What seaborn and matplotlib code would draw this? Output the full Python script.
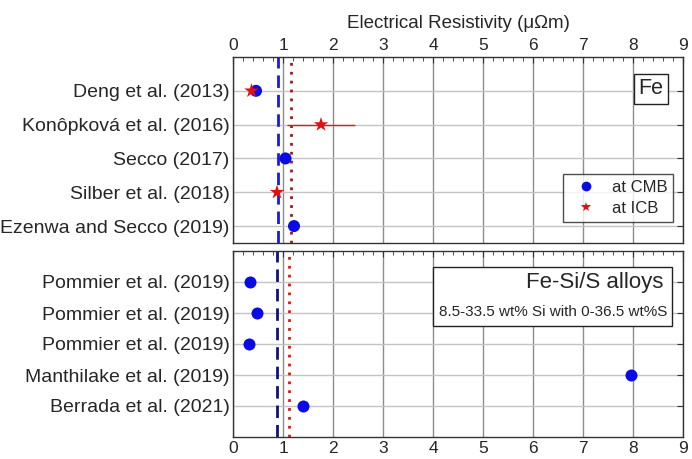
import numpy as np
import pandas as pd
import matplotlib.pyplot as plt
import seaborn as sns
from matplotlib.ticker import MultipleLocator

sns.set_style("white")
plt.rcParams['font.family'] = ['Liberation Sans', 'DejaVu Sans']

# ---------------- data ----------------
fe_studies = ["Deng et al. (2013)", "Konôpková et al. (2016)", "Secco (2017)",
              "Silber et al. (2018)", "Ezenwa and Secco (2019)"]
fe_cmb = [0.46, np.nan, 1.05, np.nan, 1.22]
fe_icb = [0.37, 1.76, np.nan, 0.88, np.nan]
fe_icb_lo = [np.nan, 1.08, np.nan, np.nan, np.nan]
fe_icb_hi = [np.nan, 2.44, np.nan, np.nan, np.nan]

alloy_studies = ["Pommier et al. (2019)", "Pommier et al. (2019)", "Pommier et al. (2019)",
                 "Manthilake et al. (2019)", "Berrada et al. (2021)"]
alloy_cmb = [0.34, 0.47, 0.32, 7.96, 1.40]

fe_lines = [0.90, 1.15]
alloy_lines = [0.88, 1.12]

# ---------------- figure ----------------
fig = plt.figure(figsize=(6.92, 4.59), dpi=100)
ax1 = fig.add_axes([233/692, 1 - 243/459, 450/692, 186/459])
ax2 = fig.add_axes([233/692, 1 - 437/459, 450/692, 186/459])


def style_axis(ax, labels, top):
    ax.set_xlim(0, 9)
    ax.xaxis.set_major_locator(MultipleLocator(1))
    ax.xaxis.set_minor_locator(MultipleLocator(0.2))
    ax.set_yticks(np.arange(1, len(labels) + 1))
    ax.set_yticklabels(labels)
    ax.grid(True, axis='x', which='major', color='#8c8c8c', linewidth=1.0)
    ax.grid(True, axis='y', which='major', color='#c4c4c4', linewidth=1.0)
    ax.set_axisbelow(True)
    ax.tick_params(axis='both', which='both', direction='in', top=True, right=True,
                   color='#333333')
    ax.tick_params(axis='x', which='major', length=4, labelsize=12.5)
    ax.tick_params(axis='x', which='minor', length=3)
    ax.tick_params(axis='y', length=4, labelsize=14, pad=2.5)
    ax.tick_params(axis='x', labeltop=top, labelbottom=not top, pad=3)
    for s in ax.spines.values():
        s.set_color('#333333')
        s.set_linewidth(1.0)
    ax.set_xlabel("")
    ax.set_ylabel("")


# ---- top panel (Fe) ----
ypos = np.arange(1, len(fe_studies) + 1)
df_fe = pd.DataFrame({
    "y": np.concatenate([ypos, ypos]),
    "rho": fe_cmb + fe_icb,
    "where": ["at CMB"] * 5 + ["at ICB"] * 5,
}).dropna()

xerr_lo = np.array(fe_icb) - np.array(fe_icb_lo)
xerr_hi = np.array(fe_icb_hi) - np.array(fe_icb)
ax1.errorbar(fe_icb, ypos, xerr=[xerr_lo, xerr_hi], fmt='none', ecolor='#d42020',
             elinewidth=1.0, capsize=0, zorder=2)
ax1.axvline(fe_lines[0], color='#1a1adf', linestyle=(0, (4.5, 2.5)), linewidth=2.0, zorder=1.5)
ax1.axvline(fe_lines[1], color='#a01818', linestyle=(0, (1, 2.2)), linewidth=2.0, zorder=1.5)
sns.scatterplot(data=df_fe, x="rho", y="y", hue="where", style="where", size="where",
                palette={"at CMB": "#0a0ae6", "at ICB": "#e01010"},
                markers={"at CMB": "o", "at ICB": "*"},
                sizes={"at CMB": 75, "at ICB": 120}, linewidth=0, ax=ax1, zorder=3)
ax1.set_ylim(5.5, 0)
style_axis(ax1, fe_studies, top=True)
leg = ax1.legend(loc='lower right', bbox_to_anchor=(0.978, 0.113), frameon=True,
                 fancybox=False, edgecolor='#222222', fontsize=12, handletextpad=0.55,
                 borderpad=0.35, labelspacing=0.35, borderaxespad=0)
leg.get_frame().set_linewidth(1.0)
for h in leg.legend_handles:
    h.set_markersize(7)
ax1.text(0.957, 0.828, "Fe", transform=ax1.transAxes, ha='right', va='center', fontsize=15.5,
         bbox=dict(boxstyle='square,pad=0.2', facecolor='white', edgecolor='#222222', linewidth=1.0))
ax1.xaxis.set_label_position('top')
ax1.set_xlabel("Electrical Resistivity (μΩm)", fontsize=13.5, labelpad=7)

# ---- bottom panel (Fe-Si/S alloys) ----
ypos2 = np.arange(1, len(alloy_studies) + 1)
df_al = pd.DataFrame({"y": ypos2, "rho": alloy_cmb})
ax2.axvline(alloy_lines[0], color='#10107a', linestyle=(0, (4.5, 2.5)), linewidth=2.0, zorder=1.5)
ax2.axvline(alloy_lines[1], color='#e01515', linestyle=(0, (1, 2.2)), linewidth=2.0, zorder=1.5)
sns.scatterplot(data=df_al, x="rho", y="y", color="#0a0ae6", s=75, linewidth=0, ax=ax2, zorder=3)
ax2.set_ylim(6, 0)
style_axis(ax2, alloy_studies, top=False)

ax2.add_patch(plt.Rectangle((200/450, 1 - 75/186), 239/450, 59/186, transform=ax2.transAxes,
                            facecolor='white', edgecolor='#222222', linewidth=1.0, zorder=4))
ax2.text(0.956, 0.828, "Fe-Si/S alloys", transform=ax2.transAxes, ha='right', va='center',
         fontsize=16, zorder=5)
ax2.text(0.966, 0.672, "8.5-33.5 wt% Si with 0-36.5 wt%S", transform=ax2.transAxes,
         ha='right', va='center', fontsize=11, zorder=5)

fig.savefig("out.png", dpi=100)
